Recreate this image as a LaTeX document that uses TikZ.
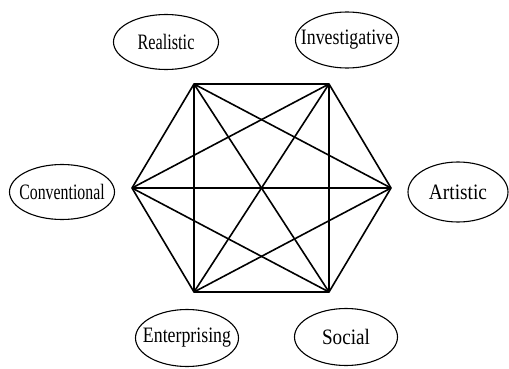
\documentclass[tikz,border=0pt]{standalone}
\usepackage{fontspec}
\setmainfont{Liberation Serif}
\usetikzlibrary{shapes.geometric}

\tikzset{
  trait/.style = {draw, ellipse, line width=1.1pt, inner sep=-20pt,
                  font=\fontsize{22}{22}\selectfont},
  edge/.style  = {line width=1.6pt, line join=round}
}

\begin{document}
\begin{tikzpicture}[x=1pt, y=1pt]
  \useasboundingbox (0,0) rectangle (509,368);

  % corners of the hexagon
  \coordinate (tl) at (194,284);
  \coordinate (tr) at (329,284);
  \coordinate (r)  at (391,180);
  \coordinate (br) at (329,76);
  \coordinate (bl) at (194,76);
  \coordinate (l)  at (132,180);

  % every corner joined to every other one
  \draw[edge] (tl) -- (tr) -- (r) -- (br) -- (bl) -- (l) -- cycle;
  \draw[edge] (tl) -- (r)  (tl) -- (br) (tl) -- (bl);
  \draw[edge] (tr) -- (bl) (tr) -- (l)  (tr) -- (br);
  \draw[edge] (r)  -- (bl) (r)  -- (l);
  \draw[edge] (br) -- (l);

  % the six types
  \node[trait, minimum width=105, minimum height=55] (real) at (166,326)
    {\scalebox{0.74}[1]{Realistic}};
  \node[trait, minimum width=103, minimum height=56] (inv)  at (347,328)
    {\scalebox{0.81}[1]{Investigative}};
  \node[trait, minimum width=100, minimum height=60] (art)  at (458,176)
    {\scalebox{0.88}[1]{Artistic}};
  \node[trait, minimum width=103, minimum height=57] (soc)  at (346,31)
    {\scalebox{0.87}[1]{Social}};
  \node[trait, minimum width=103, minimum height=57] (ent)  at (187,30)
    {\scalebox{0.81}[1]{Enterprising}};
  \node[trait, minimum width=105, minimum height=55] (conv) at (62,176)
    {\scalebox{0.72}[1]{Conventional}};
\end{tikzpicture}
\end{document}
